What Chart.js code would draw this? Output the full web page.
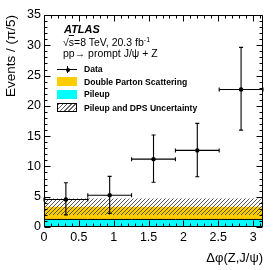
<!DOCTYPE html>
<html><head><meta charset="utf-8">
<script src="https://cdn.jsdelivr.net/npm/chart.js@4.4.0/dist/chart.umd.min.js"></script>
<style>
html,body{margin:0;padding:0;background:#fff;}
#wrap{position:relative;width:277px;height:270px;overflow:hidden;}
#c{position:absolute;left:0;top:0;}
.t{position:absolute;font-family:"Liberation Sans",Arial,Helvetica,sans-serif;color:#000;white-space:nowrap;line-height:12px;}
.lg{font-size:8.6px;font-weight:bold;}
.sw{position:absolute;width:20px;height:9px;box-sizing:border-box;}
sup{font-size:7px;vertical-align:4px;line-height:0;}
</style></head><body>
<div id="wrap">
<canvas id="c" width="277" height="270"></canvas>
<div class="t" style="left:64px;top:23px;font-size:11px;font-weight:bold;font-style:italic;">ATLAS</div>
<div class="t" style="left:63px;top:35.5px;font-size:10.5px;">√<span style="text-decoration:overline">s</span>=8 TeV, 20.3 fb<sup>-1</sup></div>
<div class="t" style="left:63px;top:47px;font-size:10.5px;">pp→ prompt J/ψ + Z</div>
<div id="legend"></div>
</div>
<script>
// ---- data ----
const binEdges = [0, 0.6283, 1.2566, 1.8850, 2.5133, 3.1416];
const dataX = [0.314, 0.942, 1.571, 2.199, 2.827];
const dataXErr = [0.314, 0.314, 0.314, 0.314, 0.314];
const dataY = [4.55, 5.25, 11.2, 12.65, 22.7];
const errLow = [2.55, 3.0, 3.8, 4.35, 6.7];
const errHigh = [2.75, 3.1, 4.0, 4.45, 6.95];
const pileup = [1.25, 1.25, 1.25, 1.25, 1.25];
const dps = [2.1, 2.1, 2.1, 2.1, 2.1];
const uncertainty = [1.35, 1.35, 1.35, 1.35, 1.35];
const xTicks = [0, 0.5, 1, 1.5, 2, 2.5, 3];
const yTicks = [0, 5, 10, 15, 20, 25, 30, 35];
const legendLabels = ["Data", "Double Parton Scattering", "Pileup", "Pileup and DPS Uncertainty"];

const FONT = '"Liberation Sans", Arial, Helvetica, sans-serif';
const CYAN = '#00ffff', ORANGE = '#ffcc00';

// ---- legend (HTML) ----
(function(){
  const lg = document.getElementById('legend');
  const rows = [69, 81.5, 94, 107.5];
  const L = 57;
  let h = '';
  h += `<div style="position:absolute;left:${L}px;top:${rows[0]}px;width:20px;height:1px;background:#000"></div>`;
  h += `<div style="position:absolute;left:${L+10}px;top:${rows[0]-3}px;width:1px;height:7px;background:#000"></div>`;
  h += `<div style="position:absolute;left:${L+8.5}px;top:${rows[0]-1.5}px;width:4px;height:4px;border-radius:2px;background:#000"></div>`;
  h += `<div class="sw" style="left:${L}px;top:${rows[1]-4.5}px;background:${ORANGE}"></div>`;
  h += `<div class="sw" style="left:${L}px;top:${rows[2]-4.5}px;background:${CYAN}"></div>`;
  h += `<div class="sw" style="left:${L}px;top:${rows[3]-4.5}px;border:1px solid #000;background:repeating-linear-gradient(135deg,#666 0 1px,#fff 1px 3px)"></div>`;
  legendLabels.forEach((s,i)=>{ h += `<div class="t lg" style="left:84px;top:${rows[i]-6}px">${s}</div>`; });
  lg.innerHTML = h;
})();

// ---- helpers ----
function steps(vals){
  return binEdges.map((e,i)=>({x:e, y: vals[Math.min(i, vals.length-1)]}));
}
const totalBkg = pileup.map((p,i)=>p+dps[i]);
const uncLo = totalBkg.map((t,i)=>t-uncertainty[i]);
const uncHi = totalBkg.map((t,i)=>t+uncertainty[i]);

function hatchPattern(){
  const c = document.createElement('canvas'); c.width = 4; c.height = 4;
  const g = c.getContext('2d');
  g.strokeStyle = '#444'; g.lineWidth = 0.9;
  g.beginPath();
  g.moveTo(0,4); g.lineTo(4,0);
  g.moveTo(-1,1); g.lineTo(1,-1);
  g.moveTo(3,5); g.lineTo(5,3);
  g.stroke();
  return g.createPattern(c,'repeat');
}

// ---- plugins ----
const errorBars = {
  id:'errorBars',
  afterDatasetsDraw(chart){
    const {ctx, scales:{x,y}} = chart;
    ctx.save(); ctx.strokeStyle = '#000'; ctx.lineWidth = 1.1;
    dataX.forEach((xv,i)=>{
      const px = x.getPixelForValue(xv), py = y.getPixelForValue(dataY[i]);
      const x0 = x.getPixelForValue(xv - dataXErr[i]), x1 = x.getPixelForValue(xv + dataXErr[i]);
      const y0 = y.getPixelForValue(dataY[i]-errLow[i]), y1 = y.getPixelForValue(dataY[i]+errHigh[i]);
      ctx.beginPath();
      ctx.moveTo(x0,py); ctx.lineTo(x1,py);
      ctx.moveTo(px,y0); ctx.lineTo(px,y1);
      ctx.moveTo(px-2,y0); ctx.lineTo(px+2,y0);
      ctx.moveTo(px-2,y1); ctx.lineTo(px+2,y1);
      ctx.moveTo(x0,py-2); ctx.lineTo(x0,py+2);
      ctx.moveTo(x1,py-2); ctx.lineTo(x1,py+2);
      ctx.stroke();
    });
    ctx.restore();
  }
};
const frameTicks = {
  id:'frameTicks',
  afterDraw(chart){
    const {ctx, chartArea:a, scales:{x,y}} = chart;
    ctx.save(); ctx.strokeStyle='#000'; ctx.lineWidth=1;
    const L = Math.round(a.left)+0.5, R = Math.round(a.right)-0.5, T = Math.round(a.top)+0.5, B = Math.round(a.bottom)-0.5;
    ctx.beginPath();
    ctx.rect(L, T, R-L, B-T);
    for(let k=0;k<=31;k++){
      const v = k/10; const px = Math.round(x.getPixelForValue(v))+0.5;
      const len = (k%5===0)?6:3;
      ctx.moveTo(px,B); ctx.lineTo(px,B-len);
      ctx.moveTo(px,T); ctx.lineTo(px,T+len);
    }
    for(let k=0;k<=35;k++){
      const py = Math.round(y.getPixelForValue(k))+0.5;
      const len = (k%5===0)?6:3;
      ctx.moveTo(L,py); ctx.lineTo(L+len,py);
      ctx.moveTo(R,py); ctx.lineTo(R-len,py);
    }
    ctx.stroke();
    ctx.restore();
  }
};

new Chart(document.getElementById('c'), {
  type:'line',
  data:{ datasets:[
    { label:'Data', type:'scatter', data: dataX.map((v,i)=>({x:v,y:dataY[i]})), order:1,
      pointRadius:2.2, pointBackgroundColor:'#000', pointBorderColor:'#000', pointBorderWidth:0, showLine:false },
    { label:'Pileup', data: steps(pileup), stepped:'after', order:4, fill:'origin',
      backgroundColor: CYAN, borderColor:'#000', borderWidth:1, pointRadius:0 },
    { label:'Double Parton Scattering', data: steps(totalBkg), stepped:'after', order:5, fill:1,
      backgroundColor: ORANGE, borderColor: ORANGE, borderWidth:0, pointRadius:0 },
    { label:'unc lo', data: steps(uncLo), stepped:'after', order:3, fill:false,
      borderWidth:0, borderColor:'rgba(0,0,0,0)', pointRadius:0 },
    { label:'Pileup and DPS Uncertainty', data: steps(uncHi), stepped:'after', order:2, fill:3,
      backgroundColor: hatchPattern(), borderWidth:0, borderColor:'rgba(0,0,0,0)', pointRadius:0 }
  ]},
  options:{
    responsive:false, animation:false, devicePixelRatio:1,
    layout:{ padding:{ top:15, right:14, left:0, bottom:0 } },
    plugins:{ legend:{display:false}, tooltip:{enabled:false} },
    scales:{
      x:{ type:'linear', min:0, max:Math.PI,
        afterFit(s){ s.height = 43; },
        afterBuildTicks(s){ s.ticks = xTicks.map(v=>({value:v})); },
        grid:{ display:false, drawTicks:false, tickLength:0 }, border:{ display:false },
        ticks:{ color:'#000', font:{family:FONT, size:12.5}, padding:3, maxRotation:0, autoSkip:false,
          callback:(v)=>String(v) },
        title:{ display:true, text:'Δφ(Z,J/ψ)', align:'end', color:'#000', font:{family:FONT, size:13}, padding:{bottom:4, top:0} }
      },
      y:{ type:'linear', min:0, max:35,
        afterFit(s){ s.width = 44; },
        afterBuildTicks(s){ s.ticks = yTicks.map(v=>({value:v})); },
        grid:{ display:false, drawTicks:false, tickLength:0 }, border:{ display:false },
        ticks:{ color:'#000', font:{family:FONT, size:12.5}, padding:3, autoSkip:false },
        title:{ display:true, text:'Events / (π/5)', align:'end', color:'#000', font:{family:FONT, size:13.5}, padding:{top:3, bottom:0} }
      }
    }
  },
  plugins:[errorBars, frameTicks]
});
</script>
</body></html>
